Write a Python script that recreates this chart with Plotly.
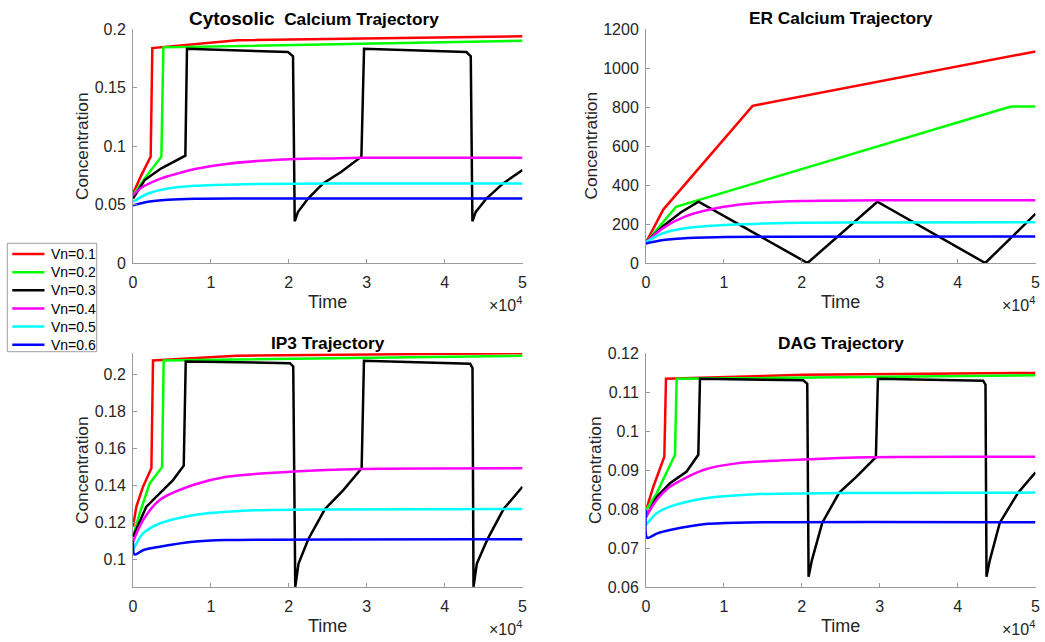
import plotly.graph_objects as go

W, H = 1045, 642

series_names = ["Vn=0.1", "Vn=0.2", "Vn=0.3", "Vn=0.4", "Vn=0.5", "Vn=0.6"]
series_colors = ["#ff0000", "#00ff00", "#000000", "#ff00ff", "#00ffff", "#0000ff"]
x_ticks = [0, 10000, 20000, 30000, 40000, 50000]
x_tick_labels = ["0", "1", "2", "3", "4", "5"]

# ---- Cytosolic calcium ----
cyt_t_01 = [0, 1070, 2270, 2480, 13400, 50000]
cyt_v_01 = [0.0594, 0.0751, 0.0909, 0.1837, 0.1903, 0.1937]
cyt_t_02 = [0, 1500, 3640, 3900, 50000]
cyt_v_02 = [0.0580, 0.0723, 0.0909, 0.1843, 0.1900]
cyt_t_03 = [0, 1500, 3640, 5780, 6720, 6930, 19900, 20540, 20760, 21190, 22470, 24400, 26750, 29320, 29660,
            42800, 43360, 43570, 44000, 45370, 47510, 50000]
cyt_v_03 = [0.0551, 0.0709, 0.0809, 0.0880, 0.0917, 0.1831, 0.1803, 0.1766, 0.0357, 0.0437, 0.0551, 0.0680,
            0.0780, 0.0909, 0.1831, 0.1803, 0.1766, 0.0357, 0.0437, 0.0551, 0.0680, 0.0794]
cyt_t_04 = [0, 1070, 3640, 5780, 7920, 12200, 16480, 20760, 25040, 29320, 50000]
cyt_v_04 = [0.0580, 0.0643, 0.0723, 0.0766, 0.0803, 0.0849, 0.0874, 0.0889, 0.0894, 0.0900, 0.0900]
cyt_t_05 = [0, 1930, 4490, 7920, 14340, 25000, 50000]
cyt_v_05 = [0.0523, 0.0594, 0.0637, 0.0660, 0.0674, 0.0679, 0.0680]
cyt_t_06 = [0, 1930, 4490, 7920, 15000, 50000]
cyt_v_06 = [0.0494, 0.0523, 0.0540, 0.0549, 0.0551, 0.0551]
cyt_ticks = [0, 0.05, 0.1, 0.15, 0.2]
cyt_tick_labels = ["0", "0.05", "0.1", "0.15", "0.2"]

# ---- ER calcium ----
er_t_01 = [0, 2220, 13680, 50000]
er_v_01 = [106, 274, 806, 1085]
er_t_02 = [0, 3850, 46200, 47000, 50000]
er_v_02 = [106, 288, 795, 802, 802]
er_t_03 = [0, 2220, 4500, 6750, 20730, 29700, 43550, 50000]
er_v_03 = [106, 190, 260, 314, 0, 314, 0, 252]
er_t_04 = [0, 2220, 5000, 10000, 15000, 20000, 30000, 50000]
er_v_04 = [106, 180, 238, 288, 310, 318, 322, 322]
er_t_05 = [0, 2000, 5000, 10000, 15000, 20000, 30000, 50000]
er_v_05 = [106, 150, 178, 195, 202, 206, 208, 209]
er_t_06 = [0, 2000, 5000, 10000, 15000, 50000]
er_v_06 = [100, 117, 127, 133, 135, 136]
er_ticks = [0, 200, 400, 600, 800, 1000, 1200]
er_tick_labels = ["0", "200", "400", "600", "800", "1000", "1200"]

# ---- IP3 ----
ip3_t_01 = [0, 430, 1290, 2360, 2570, 13280, 50000]
ip3_v_01 = [0.1177, 0.1286, 0.1394, 0.1494, 0.2078, 0.2103, 0.2117]
ip3_t_02 = [0, 860, 2140, 3730, 3940, 50000]
ip3_v_02 = [0.1123, 0.1250, 0.1412, 0.1500, 0.2078, 0.2103]
ip3_t_03 = [0, 1714, 3428, 5142, 6513, 6770, 20140, 20570, 20830, 21250, 22500, 24640, 27000, 29350, 29650,
            43280, 43580, 43710, 44140, 45510, 47570, 50000]
ip3_v_03 = [0.1123, 0.1286, 0.1358, 0.1430, 0.1508, 0.2072, 0.2063, 0.2045, 0.0852, 0.0978, 0.1110, 0.1273,
            0.1376, 0.1494, 0.2076, 0.2060, 0.2036, 0.0852, 0.0978, 0.1110, 0.1273, 0.1394]
ip3_t_04 = [0, 1290, 3430, 7710, 12000, 20570, 29140, 50000]
ip3_v_04 = [0.1096, 0.1213, 0.1322, 0.1403, 0.1448, 0.1476, 0.1490, 0.1494]
ip3_t_05 = [0, 1290, 3430, 7710, 14140, 25000, 50000]
ip3_v_05 = [0.1050, 0.1141, 0.1195, 0.1240, 0.1264, 0.1271, 0.1273]
ip3_t_06 = [0, 200, 1290, 3430, 7710, 12000, 50000]
ip3_v_06 = [0.1100, 0.1027, 0.1050, 0.1069, 0.1096, 0.1105, 0.1110]
ip3_ticks = [0.1, 0.12, 0.14, 0.16, 0.18, 0.2]
ip3_tick_labels = ["0.1", "0.12", "0.14", "0.16", "0.18", "0.2"]

# ---- DAG ----
dag_t_01 = [0, 940, 2352, 2566, 20190, 50000]
dag_v_01 = [0.0797, 0.0857, 0.0934, 0.1134, 0.1144, 0.1149]
dag_t_02 = [0, 1370, 3720, 3935, 50000]
dag_v_02 = [0.0797, 0.0840, 0.0939, 0.1134, 0.1143]
dag_t_03 = [0, 1370, 3080, 5218, 6715, 6929, 20190, 20700, 20870, 21300, 22630, 24810, 27030, 29510, 29770,
            43280, 43580, 43710, 44140, 45420, 47770, 50000]
dag_v_03 = [0.0780, 0.0831, 0.0866, 0.0896, 0.0939, 0.1134, 0.1130, 0.1121, 0.0626, 0.0669, 0.0765, 0.0842,
            0.0883, 0.0933, 0.1134, 0.1129, 0.1119, 0.0626, 0.0669, 0.0765, 0.0842, 0.0894]
dag_t_04 = [0, 1370, 3080, 7360, 11630, 20190, 28740, 50000]
dag_v_04 = [0.0780, 0.0823, 0.0857, 0.0900, 0.0917, 0.0927, 0.0933, 0.0934]
dag_t_05 = [0, 1370, 3080, 7360, 14050, 25000, 50000]
dag_v_05 = [0.0759, 0.0789, 0.0806, 0.0827, 0.0838, 0.0841, 0.0842]
dag_t_06 = [0, 170, 1370, 3080, 7360, 11630, 50000]
dag_v_06 = [0.0800, 0.0726, 0.0737, 0.0746, 0.0761, 0.0765, 0.0766]
dag_ticks = [0.06, 0.07, 0.08, 0.09, 0.1, 0.11, 0.12]
dag_tick_labels = ["0.06", "0.07", "0.08", "0.09", "0.1", "0.11", "0.12"]

panels = [
    ([cyt_t_01, cyt_t_02, cyt_t_03, cyt_t_04, cyt_t_05, cyt_t_06],
     [cyt_v_01, cyt_v_02, cyt_v_03, cyt_v_04, cyt_v_05, cyt_v_06], [0, 0.2], cyt_ticks, cyt_tick_labels),
    ([er_t_01, er_t_02, er_t_03, er_t_04, er_t_05, er_t_06],
     [er_v_01, er_v_02, er_v_03, er_v_04, er_v_05, er_v_06], [0, 1200], er_ticks, er_tick_labels),
    ([ip3_t_01, ip3_t_02, ip3_t_03, ip3_t_04, ip3_t_05, ip3_t_06],
     [ip3_v_01, ip3_v_02, ip3_v_03, ip3_v_04, ip3_v_05, ip3_v_06], [0.0851, 0.2118], ip3_ticks, ip3_tick_labels),
    ([dag_t_01, dag_t_02, dag_t_03, dag_t_04, dag_t_05, dag_t_06],
     [dag_v_01, dag_v_02, dag_v_03, dag_v_04, dag_v_05, dag_v_06], [0.06, 0.12], dag_ticks, dag_tick_labels),
]

FONT = "Liberation Sans, Arial, Helvetica, sans-serif"
AXC = "#9a9a9a"
TXT = "#262626"

def fx(p):
    return p / W

def fy(p):
    return 1 - p / H

# plot areas in pixels: (left, right, top, bottom)
boxes = [(133, 522.5, 29, 263), (646, 1035.5, 29, 263), (133, 522.5, 353, 587), (646, 1035.5, 353, 587)]

fig = go.Figure()
layout = dict(
    template="none",
    width=W, height=H, margin=dict(l=0, r=0, t=0, b=0, pad=0, autoexpand=False),
    paper_bgcolor="white", plot_bgcolor="white", showlegend=False,
    font=dict(family=FONT, color=TXT),
)

smooth = [False, False, False, True, True, True]
for k, (ts, vs, yr, yt, ytl) in enumerate(panels):
    xa = "x" if k == 0 else f"x{k+1}"
    ya = "y" if k == 0 else f"y{k+1}"
    for i in range(6):
        fig.add_trace(go.Scatter(
            x=ts[i], y=vs[i], mode="lines", name=series_names[i],
            line=dict(color=series_colors[i], width=2.5, shape="spline" if smooth[i] else "linear",
                      smoothing=0.8 if smooth[i] else None),
            xaxis=xa, yaxis=ya, hoverinfo="skip"))
    l, r, t, b = boxes[k]
    xkey = "xaxis" if k == 0 else f"xaxis{k+1}"
    ykey = "yaxis" if k == 0 else f"yaxis{k+1}"
    layout[xkey] = dict(domain=[fx(l), fx(r)], anchor=ya, range=[0, 50000], automargin=False,
                        tickvals=x_ticks, ticktext=x_tick_labels, ticks="inside", ticklen=4,
                        tickcolor=AXC, showline=True, linecolor=AXC, linewidth=1, showgrid=False,
                        zeroline=False, tickfont=dict(size=16, color=TXT, family=FONT), mirror=False,
                        ticklabelstandoff=5)
    layout[ykey] = dict(domain=[fy(b), fy(t)], anchor=xa, range=yr, automargin=False,
                        tickvals=yt, ticktext=ytl, ticks="inside", ticklen=4,
                        tickcolor=AXC, showline=True, linecolor=AXC, linewidth=1, showgrid=False,
                        zeroline=False, tickfont=dict(size=16, color=TXT, family=FONT), mirror=False,
                        ticklabelstandoff=3)

annotations = []
# titles
title_pos = [(314, 18), (840.8, 18), (328, 342.5), (840.8, 342.5)]
title_texts = ["<span style='font-size:19px'>Cytosolic</span>&nbsp; Calcium Trajectory",
               "ER Calcium Trajectory", "IP3 Trajectory", "DAG Trajectory"]
for (x, y), txt in zip(title_pos, title_texts):
    annotations.append(dict(text="<b>" + txt + "</b>", x=fx(x), y=fy(y), xref="paper", yref="paper",
                            xanchor="center", yanchor="middle", showarrow=False,
                            font=dict(size=17.3, color="black", family=FONT)))
# x labels, y labels, exponent
for k, (l, r, t, b) in enumerate(boxes):
    annotations.append(dict(text="Time", x=fx((l + r) / 2), y=fy(b + 38.5), xref="paper", yref="paper",
                            xanchor="center", yanchor="middle", showarrow=False,
                            font=dict(size=18, color=TXT, family=FONT)))
    ylab_x = l - (51 if k != 1 else 55.5)
    annotations.append(dict(text="Concentration", x=fx(ylab_x), y=fy((t + b) / 2), xref="paper", yref="paper",
                            xanchor="center", yanchor="middle", textangle=-90, showarrow=False,
                            font=dict(size=17.3, color=TXT, family=FONT)))
    annotations.append(dict(text="\u00d710<sup>4</sup>", x=fx(r + 1), y=fy(b + 41), xref="paper", yref="paper",
                            xanchor="right", yanchor="middle", showarrow=False,
                            font=dict(size=16, color=TXT, family=FONT)))

# legend (drawn box)
shapes = [dict(type="rect", xref="paper", yref="paper", x0=fx(7.3), x1=fx(96.7), y0=fy(351.7), y1=fy(243.3),
               line=dict(color="#a0a0a0", width=1), fillcolor="white", layer="above")]
leg_y = [254, 272.2, 290.3, 308.5, 326.6, 344.7]
for i in range(6):
    shapes.append(dict(type="line", xref="paper", yref="paper", x0=fx(12.3), x1=fx(44.5),
                       y0=fy(leg_y[i]), y1=fy(leg_y[i]), line=dict(color=series_colors[i], width=2.5),
                       layer="above"))
    annotations.append(dict(text=series_names[i], x=fx(48.5), y=fy(leg_y[i]), xref="paper", yref="paper",
                            xanchor="left", yanchor="middle", showarrow=False,
                            font=dict(size=14, color="black", family=FONT)))

layout["annotations"] = annotations
layout["shapes"] = shapes
fig.update_layout(**layout)
fig.write_html("out.html", config={"displayModeBar": False, "staticPlot": True},
               post_script="document.body.style.margin='0px';document.body.style.overflow='hidden';")
